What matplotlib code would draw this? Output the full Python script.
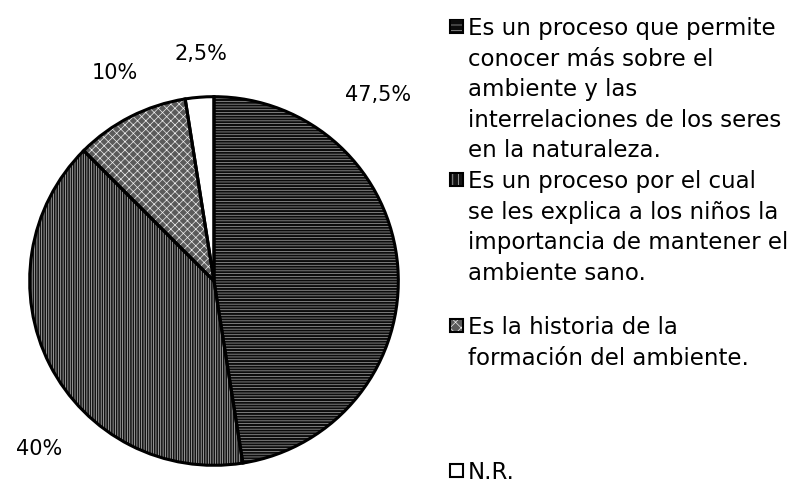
import matplotlib.pyplot as plt
from matplotlib.patches import Rectangle

# data
values = [47.5, 40, 10, 2.5]
pct_labels = ["47,5%", "40%", "10%", "2,5%"]
legend_labels = [
    "Es un proceso que permite\nconocer más sobre el\nambiente y las\ninterrelaciones de los seres\nen la naturaleza.",
    "Es un proceso por el cual\nse les explica a los niños la\nimportancia de mantener el\nambiente sano.",
    "Es la historia de la\nformación del ambiente.",
    "N.R.",
]

# styles (face, hatch colour, hatch)
faces = ["#0c0c0c", "#141414", "#5a5a5a", "white"]
hatch_cols = ["#a8a8a8", "#c8c8c8", "#f0f0f0", "white"]
hatches = ["------", "|||||||", "xxxx", ""]

plt.rcParams["font.family"] = ["DejaVu Sans"]
plt.rcParams["hatch.linewidth"] = 0.5

W, H = 800, 488
fig = plt.figure(figsize=(W / 100, H / 100), dpi=100)

# pie centre (214, 281) px, radius 188 px
cx, cy, r = 214, 281, 188
ax = fig.add_axes([(cx - r) / W, 1 - (cy + r) / H, 2 * r / W, 2 * r / H])
wedges, _ = ax.pie(values, startangle=90, counterclock=False, radius=1,
                   wedgeprops=dict(linewidth=0))
for w, fc, hc, h in zip(wedges, faces, hatch_cols, hatches):
    w.set_facecolor(fc)
    w.set_edgecolor(hc)
    w.set_hatch(h)
# outlines on top
ax.pie(values, startangle=90, counterclock=False, radius=1,
       wedgeprops=dict(fill=False, edgecolor="black", linewidth=2.2))
ax.set_xlim(-1.02, 1.02)
ax.set_ylim(-1.02, 1.02)
ax.set_aspect("equal")
ax.axis("off")

# percentage labels, placed by hand like the original
label_pos = [(0.89, 1.01), (-0.95, -0.91), (-0.54, 1.13), (-0.07, 1.23)]
for txt, (x, y) in zip(pct_labels, label_pos):
    ax.text(x, y, txt, ha="center", va="center", fontsize=15)

# legend drawn by hand
def fx(px):
    return px / W

def fy(py):
    return 1 - py / H

entry_y = [26, 179, 325, 470]   # centre of first line, px from top
line_step = 30.6
for lab, y0, fc, hc, h in zip(legend_labels, entry_y, faces, hatch_cols, hatches):
    fig.add_artist(Rectangle((fx(450), fy(y0 + 6.5)), 13 / W, 13 / H,
                             transform=fig.transFigure, facecolor=fc,
                             edgecolor="black", linewidth=1.5))
    if h:
        fig.add_artist(Rectangle((fx(451), fy(y0 + 5.5)), 11 / W, 11 / H,
                                 transform=fig.transFigure, facecolor=fc,
                                 edgecolor=hc, hatch=h[:3], linewidth=0))
    for i, line in enumerate(lab.split("\n")):
        fig.text(fx(468), fy(y0 + i * line_step), line,
                 ha="left", va="center_baseline", fontsize=16.5)

fig.savefig("out.png", dpi=100, facecolor="white")
